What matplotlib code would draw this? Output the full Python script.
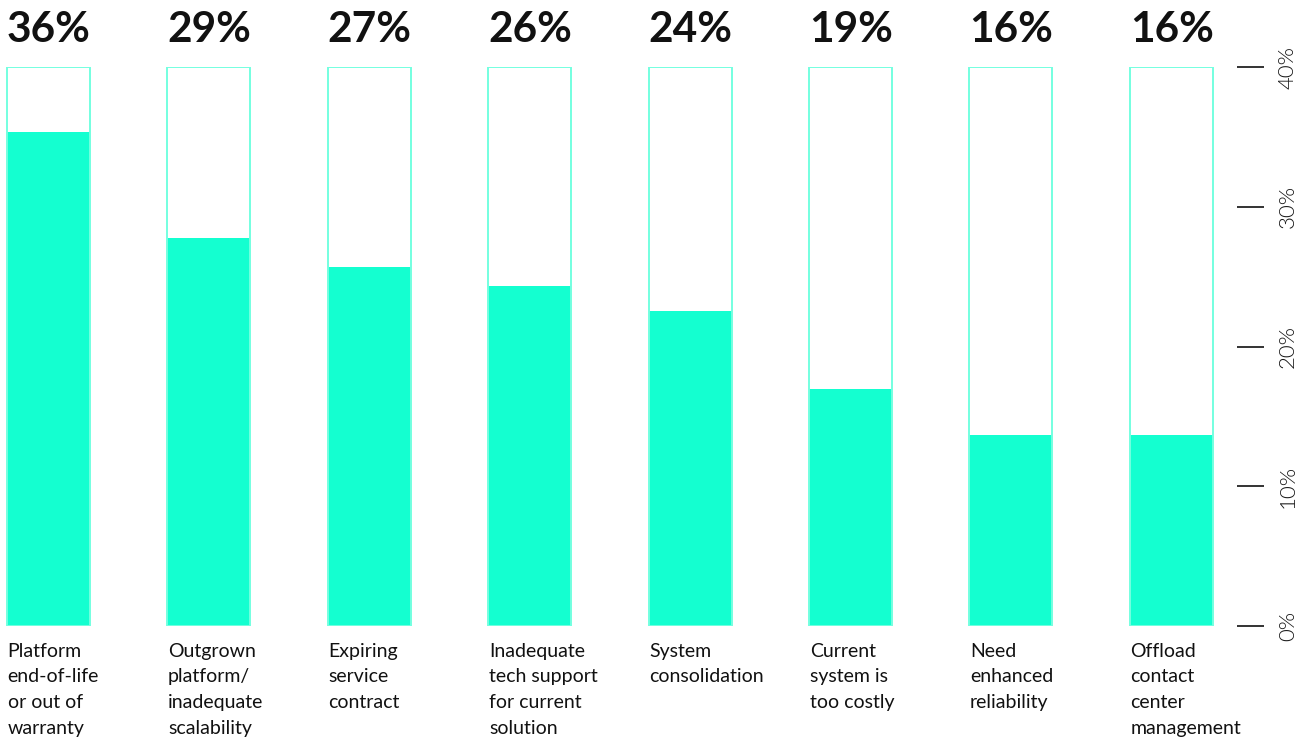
import matplotlib
matplotlib.use("Agg")
import matplotlib.pyplot as plt

categories = [
    "Platform\nend-of-life\nor out of\nwarranty",
    "Outgrown\nplatform/\ninadequate\nscalability",
    "Expiring\nservice\ncontract",
    "Inadequate\ntech support\nfor current\nsolution",
    "System\nconsolidation",
    "Current\nsystem is\ntoo costly",
    "Need\nenhanced\nreliability",
    "Offload\ncontact\ncenter\nmanagement",
]
value_labels = ["36%", "29%", "27%", "26%", "24%", "19%", "16%", "16%"]
bar_values = [35.35, 27.76, 25.69, 24.33, 22.54, 16.96, 13.67, 13.67]
axis_max = 40
tick_values = [0, 10, 20, 30, 40]
tick_labels = ["0%", "10%", "20%", "30%", "40%"]

FILL = "#14ffd0"
EDGE = "#74ffe0"

plt.rcParams["font.family"] = ["Lato", "DejaVu Sans"]

fig = plt.figure(figsize=(13.16, 7.4), dpi=100)
ax = fig.add_axes([0, 0.154, 1237 / 1316, 0.7554])

x = list(range(len(categories)))
w = 0.5175
ax.bar(x, bar_values, width=w, color=FILL, edgecolor="none", zorder=2)
ax.bar(x, [axis_max] * len(x), width=w, facecolor="none", edgecolor=EDGE,
       linewidth=1.4, zorder=3)

for xi, lab, cat in zip(x, value_labels, categories):
    ax.annotate(lab, xy=(xi - w / 2, axis_max), xytext=(0, 18),
                textcoords="offset points", ha="left", va="baseline",
                fontsize=30.5, fontweight="bold", color="#111111",
                annotation_clip=False)
    ax.annotate(cat, xy=(xi - w / 2, 0), xytext=(0.5, -12),
                textcoords="offset points", ha="left", va="top",
                fontsize=14, color="#111111", linespacing=1.62,
                annotation_clip=False)

ax.set_xlim(-48.5 / 160.4, (1237 - 48.5) / 160.4)
ax.set_ylim(0, axis_max)
for s in ax.spines.values():
    s.set_visible(False)
ax.set_xticks([])
ax.yaxis.tick_right()
ax.set_yticks(tick_values)
ax.set_yticklabels(tick_labels, rotation=90, va="center", fontsize=16,
                   fontweight=300, color="#1a1a1a")
ax.tick_params(axis="y", which="major", direction="out", length=19.5,
               width=1.2, color="#111111", pad=10)
ax.set_facecolor("none")

fig.savefig("out.png", dpi=100)
